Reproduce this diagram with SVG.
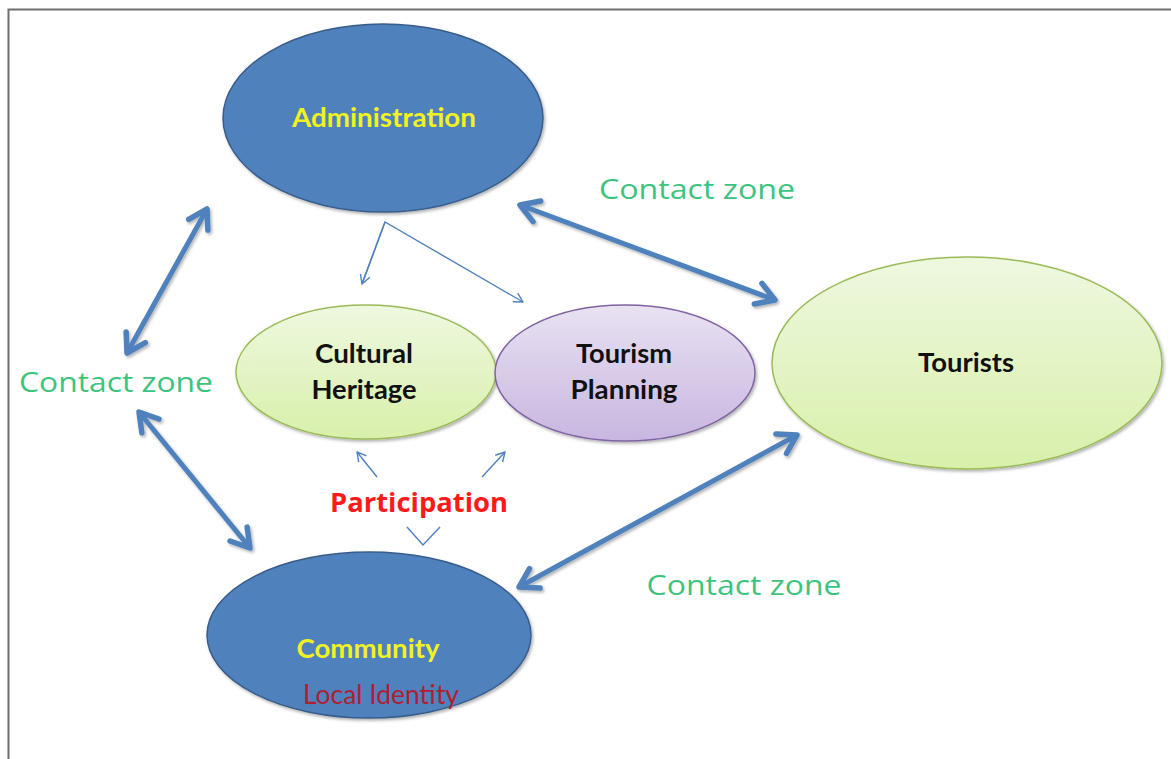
<svg xmlns="http://www.w3.org/2000/svg" width="1171" height="759" viewBox="0 0 1171 759">
  <style>
    .node-blue { fill: #4F81BD; stroke: #385D8A; stroke-width: 1.5; }
    .node-green { fill: url(#greenFill); stroke: #9BBB59; stroke-width: 1.5; }
    .node-purple { fill: url(#purpleFill); stroke: #8064A2; stroke-width: 1.5; }
    .lbl { font-family: Lato, "Open Sans", "Liberation Sans", sans-serif; font-weight: bold; text-anchor: middle; font-size: 27px; }
    .lbl-yellow { fill: #F2F21E; }
    .lbl-dark { fill: #111111; }
    .zone { font-family: "Open Sans", "Liberation Sans", sans-serif; font-size: 28px; fill: #3CC47C; text-anchor: middle; }
    .thick { fill: none; stroke: #4F81BD; stroke-width: 5; }
    .thin { fill: none; stroke: #4F81BD; stroke-width: 1.4; }
  </style>
  <defs>
    <linearGradient id="greenFill" x1="0" y1="0" x2="0" y2="1">
      <stop offset="0" stop-color="#EEF8E0"/>
      <stop offset="1" stop-color="#D8F0AA"/>
    </linearGradient>
    <linearGradient id="purpleFill" x1="0" y1="0" x2="0" y2="1">
      <stop offset="0" stop-color="#E8E2F2"/>
      <stop offset="1" stop-color="#C8B6E0"/>
    </linearGradient>
    <filter id="shade" x="-20%" y="-20%" width="140%" height="140%">
      <feDropShadow dx="1.5" dy="2" stdDeviation="1.5" flood-color="#000" flood-opacity="0.3"/>
    </filter>
    <marker id="headBig" markerUnits="userSpaceOnUse" viewBox="-24 -14 28 28" markerWidth="28" markerHeight="28" refX="0" refY="0" orient="auto-start-reverse">
      <path d="M-18,-11 L0,0 L-18,11" fill="none" stroke="#4F81BD" stroke-width="5.5" stroke-linecap="round" stroke-linejoin="round"/>
    </marker>
    <marker id="headSmall" markerUnits="userSpaceOnUse" viewBox="-12 -7 14 14" markerWidth="14" markerHeight="14" refX="0" refY="0" orient="auto">
      <path d="M-9,-5 L0,0 L-9,5" fill="none" stroke="#4F81BD" stroke-width="1.4" stroke-linejoin="round"/>
    </marker>
  </defs>

  <rect width="1171" height="759" fill="#FFFFFF"/>
  <!-- frame edges -->
  <path d="M8.5,759 L8.5,9.5 L1171,9.5" fill="none" stroke="#6E6E6E" stroke-width="2"/>

  <g id="node-administration">
    <ellipse class="node-blue" cx="383" cy="118" rx="160" ry="94" filter="url(#shade)"/>
    <text class="lbl lbl-yellow" x="384" y="127" textLength="184" lengthAdjust="spacingAndGlyphs">Administration</text>
  </g>

  <g id="node-cultural-heritage">
    <ellipse class="node-green" cx="366" cy="372" rx="130" ry="67" filter="url(#shade)"/>
    <text class="lbl lbl-dark" x="364" y="363" textLength="98" lengthAdjust="spacingAndGlyphs">Cultural</text>
    <text class="lbl lbl-dark" x="364" y="399" textLength="105" lengthAdjust="spacingAndGlyphs">Heritage</text>
  </g>

  <g id="node-tourism-planning">
    <ellipse class="node-purple" cx="625" cy="373" rx="130" ry="68" filter="url(#shade)"/>
    <text class="lbl lbl-dark" x="624" y="363" textLength="96" lengthAdjust="spacingAndGlyphs">Tourism</text>
    <text class="lbl lbl-dark" x="624" y="399" textLength="107" lengthAdjust="spacingAndGlyphs">Planning</text>
  </g>

  <g id="node-tourists">
    <ellipse class="node-green" cx="967" cy="363" rx="195" ry="106" filter="url(#shade)"/>
    <text class="lbl lbl-dark" x="966" y="372" textLength="96" lengthAdjust="spacingAndGlyphs">Tourists</text>
  </g>

  <g id="node-community">
    <ellipse class="node-blue" cx="369" cy="635" rx="162" ry="83" filter="url(#shade)"/>
    <text class="lbl lbl-yellow" x="368" y="658" textLength="143" lengthAdjust="spacingAndGlyphs">Community</text>
    <text x="381" y="704" font-family="Lato, 'Open Sans', 'Liberation Sans', sans-serif" font-size="26" fill="#B01E32" text-anchor="middle" textLength="156" lengthAdjust="spacingAndGlyphs">Local Identity</text>
  </g>

  <g id="connectors">
    <!-- contact-zone links -->
    <g filter="url(#shade)">
      <line class="thick" x1="520" y1="205" x2="775" y2="300" marker-start="url(#headBig)" marker-end="url(#headBig)"/>
      <line class="thick" x1="207" y1="209" x2="127" y2="353" marker-start="url(#headBig)" marker-end="url(#headBig)"/>
      <line class="thick" x1="139" y1="412" x2="250" y2="548" marker-start="url(#headBig)" marker-end="url(#headBig)"/>
      <line class="thick" x1="519" y1="587" x2="797" y2="435" marker-start="url(#headBig)" marker-end="url(#headBig)"/>
    </g>
    <!-- administration to inner nodes -->
    <polyline class="thin" points="362,284 385,222 523,302" marker-end="url(#headSmall)"/>
    <line class="thin" x1="385" y1="222" x2="362" y2="284" marker-end="url(#headSmall)"/>
    <!-- participation links -->
    <line class="thin" x1="377" y1="477" x2="357" y2="452" marker-end="url(#headSmall)"/>
    <line class="thin" x1="482" y1="477" x2="505" y2="452" marker-end="url(#headSmall)"/>
    <polyline class="thin" points="407,527 423,545 440,527"/>
  </g>

  <text class="zone" x="697" y="199" textLength="196" lengthAdjust="spacingAndGlyphs">Contact zone</text>
  <text class="zone" x="116" y="392" textLength="194" lengthAdjust="spacingAndGlyphs">Contact zone</text>
  <text class="zone" x="744" y="595" textLength="195" lengthAdjust="spacingAndGlyphs">Contact zone</text>
  <text x="419" y="512" font-family="'Open Sans', 'Liberation Sans', sans-serif" font-weight="bold" font-size="27" fill="#FF1A1A" text-anchor="middle" textLength="178" lengthAdjust="spacingAndGlyphs">Participation</text>
</svg>
